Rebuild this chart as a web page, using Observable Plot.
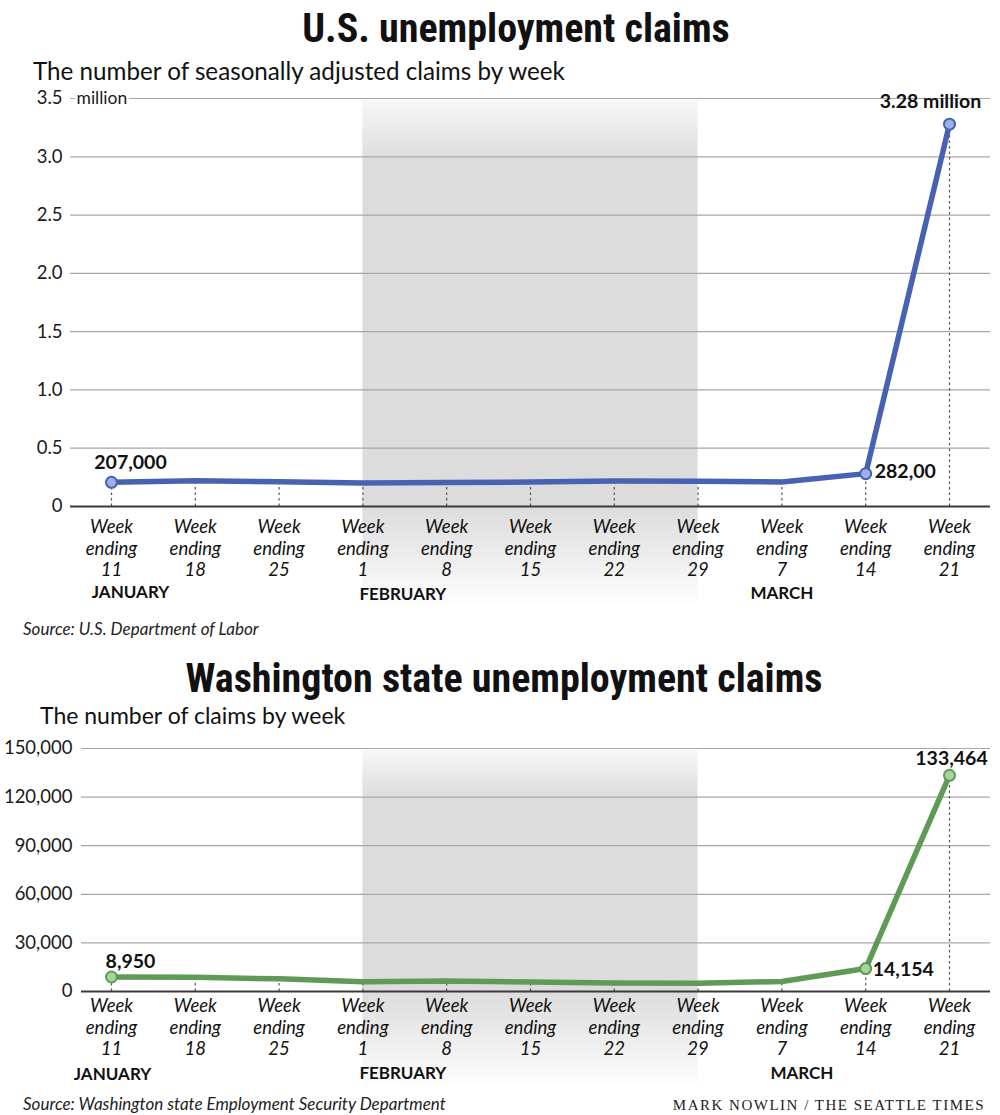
<!DOCTYPE html>
<html>
<head>
<meta charset="utf-8">
<script src="https://cdn.jsdelivr.net/npm/d3@7"></script>
<script src="https://cdn.jsdelivr.net/npm/@observablehq/plot@0.6"></script>
<style>
  html, body { margin: 0; padding: 0; background: #fff; }
  #page { position: relative; width: 1000px; height: 1115px; overflow: hidden; font-family: Lato, "Open Sans", sans-serif; color: #111; }
  .title { position: absolute; width: 1000px; text-align: center; font-weight: 700; line-height: 1; white-space: nowrap; font-family: "Liberation Sans Narrow", "Arial Narrow", "Roboto Condensed", Lato, sans-serif; }
  .title span { display: inline-block; }
  .sub { position: absolute; line-height: 1; white-space: nowrap; color: #111; }
  .src { position: absolute; left: 23px; font-size: 17px; font-style: italic; line-height: 1; color: #222; }
  .credit { position: absolute; right: 15px; font-family: "Liberation Serif", "DejaVu Serif", serif; font-size: 15px; letter-spacing: 1.5px; line-height: 1; color: #222; }
  .chart { position: absolute; left: 0; }
</style>
</head>
<body>
<div id="page">
  <div class="title" id="t1" style="left:16px;top:9px;font-size:40px"><span>U.S. unemployment claims</span></div>
  <div class="sub" style="left:33px;top:59px;font-size:24.2px">The number of seasonally adjusted claims by week</div>
  <div class="chart" id="c1" style="top:88px"></div>
  <div class="src" style="top:620px">Source: U.S. Department of Labor</div>
  <div class="title" id="t2" style="left:4px;top:659px;font-size:40px"><span>Washington state unemployment claims</span></div>
  <div class="sub" style="left:40px;top:704px;font-size:23px">The number of claims by week</div>
  <div class="chart" id="c2" style="top:738px"></div>
  <div class="src" style="top:1095px">Source: Washington state Employment Security Department</div>
  <div class="credit" style="top:1098px">MARK NOWLIN / THE SEATTLE TIMES</div>
</div>
<script>
// ---- Data ----
const weekDays = ["11", "18", "25", "1", "8", "15", "22", "29", "7", "14", "21"];
const monthNames = ["JANUARY", "FEBRUARY", "MARCH"];
const monthFirstWeek = [0, 3, 8];           // index of the first week of each month
const shadedWeeks = [3, 7];                  // February: week ending 1 .. week ending 29

// U.S. claims, millions
const usClaims = [0.207, 0.220, 0.212, 0.202, 0.205, 0.210, 0.219, 0.216, 0.211, 0.282, 3.28];
const usLabelWeeks = [0, 9, 10];
const usLabelTexts = ["207,000", "282,00", "3.28 million"];
const usTicks = [0, 0.5, 1.0, 1.5, 2.0, 2.5, 3.0, 3.5];
const usTickLabels = ["0", "0.5", "1.0", "1.5", "2.0", "2.5", "3.0", "3.5"];

// Washington claims
const waClaims = [8950, 8800, 7800, 6000, 6500, 5800, 5200, 5100, 6200, 14154, 133464];
const waLabelWeeks = [0, 9, 10];
const waLabelTexts = ["8,950", "14,154", "133,464"];
const waTicks = [0, 30000, 60000, 90000, 120000, 150000];
const waTickLabels = ["0", "30,000", "60,000", "90,000", "120,000", "150,000"];

function makeChart(cfg) {
  const rows = weekDays.map((d, i) => ({i, day: d, v: cfg.values[i]}));
  const labelRows = cfg.labelWeeks.map((w, k) => ({i: w, v: cfg.values[w], text: cfg.labelTexts[k], k}));
  const months = monthNames.map((m, k) => ({i: monthFirstWeek[k], m, k}));
  const tickRows = cfg.ticks.map((t, k) => ({t, label: cfg.tickLabels[k]}));
  const band = [{x1: shadedWeeks[0], x2: shadedWeeks[1]}];

  const svg = Plot.plot({
    width: 1000,
    height: cfg.height,
    marginTop: 10,
    marginBottom: cfg.marginBottom,
    marginLeft: cfg.marginLeft,
    marginRight: 10,
    style: {fontFamily: "Lato, 'Open Sans', sans-serif", color: "#111", background: "transparent", overflow: "visible"},
    x: {type: "linear", domain: [0, weekDays.length - 1], range: [111, 949], axis: null},
    y: {domain: [0, cfg.ticks[cfg.ticks.length - 1]], axis: null},
    marks: [
      Plot.rect(band, {x1: "x1", x2: "x2", fill: `url(#${cfg.id}-grad)`, insetTop: 2, insetBottom: -cfg.bandExtend}),
      Plot.ruleY(cfg.ticks.slice(1), {stroke: "#a8a8a8", strokeWidth: 1.2}),
      Plot.text(tickRows, {y: "t", text: "label", frameAnchor: "left", textAnchor: "end", dx: cfg.tickDx, fontSize: 18.5, fill: "#1a1a1a"}),
      ...(cfg.unitLabel ? [Plot.text([cfg.ticks[cfg.ticks.length - 1]], {y: d => d, text: () => cfg.unitLabel, frameAnchor: "left", textAnchor: "start", dx: 6, fontSize: 17.5, fill: "#1a1a1a", stroke: "white", strokeWidth: 5, paintOrder: "stroke"})] : []),
      Plot.ruleX(rows, {x: "i", y1: 0, y2: "v", stroke: "#555", strokeWidth: 1.2, strokeDasharray: "2.5,3"}),
      Plot.ruleY([0], {stroke: "#3a3a3a", strokeWidth: 2}),
      Plot.line(rows, {x: "i", y: "v", stroke: cfg.lineColor, strokeWidth: 5.5, strokeLinejoin: "round", strokeLinecap: "round"}),
      Plot.dot(labelRows, {x: "i", y: "v", r: 5.5, fill: cfg.dotFill, stroke: cfg.lineColor, strokeWidth: 2}),
      ...labelRows.map(d => Plot.text([d], {x: "i", y: "v", text: "text", fontWeight: "bold", fontSize: 19.5, fill: "#111",
        textAnchor: cfg.labelAnchor[d.k], dx: cfg.labelDx[d.k], dy: cfg.labelDy[d.k]})),
      Plot.text(rows, {x: "i", text: d => `Week\nending\n${d.day}`, frameAnchor: "bottom", lineAnchor: "top", dy: cfg.weekDy, fontSize: 18.5, fontStyle: "italic", lineHeight: 1.17, fill: "#111"}),
      ...months.map(d => Plot.text([d], {x: "i", text: "m", frameAnchor: "bottom", lineAnchor: "middle", dy: cfg.monthDy[d.k], dx: cfg.monthDx[d.k], fontSize: 17, fontWeight: "bold", fill: "#111"}))
    ]
  });

  const defs = d3.select(svg).insert("defs", ":first-child");
  const g = defs.append("linearGradient").attr("id", `${cfg.id}-grad`).attr("x1", 0).attr("x2", 0).attr("y1", 0).attr("y2", 1);
  cfg.gradStops.forEach(([o, c]) => g.append("stop").attr("offset", o).attr("stop-color", c));
  return svg;
}

document.getElementById("c1").appendChild(makeChart({
  id: "us", values: usClaims, labelWeeks: usLabelWeeks, labelTexts: usLabelTexts,
  ticks: usTicks, tickLabels: usTickLabels, unitLabel: "million",
  height: 530, marginBottom: 112, marginLeft: 70, tickDx: -8, bandExtend: 102,
  lineColor: "#4862b3", dotFill: "#9cb2e4",
  labelAnchor: ["middle", "start", "middle"], labelDx: [19, 9, -19], labelDy: [-20, -2, -22],
  weekDy: 11, monthDy: [86, 88, 87], monthDx: [19, 40, 0],
  gradStops: [[0, "#f7f7f7"], [0.12, "#dcdcdc"], [0.8, "#dcdcdc"], [1, "#ffffff"]]
}));

document.getElementById("c2").appendChild(makeChart({
  id: "wa", values: waClaims, labelWeeks: waLabelWeeks, labelTexts: waLabelTexts,
  ticks: waTicks, tickLabels: waTickLabels, unitLabel: null,
  height: 353, marginBottom: 100, marginLeft: 81, tickDx: -9, bandExtend: 99,
  lineColor: "#5f9b57", dotFill: "#a6d59a",
  labelAnchor: ["middle", "start", "middle"], labelDx: [19, 7, 2], labelDy: [-15, 1, -17],
  weekDy: 5, monthDy: [83, 82, 82], monthDx: [1, 40, 20],
  gradStops: [[0, "#f7f7f7"], [0.14, "#dcdcdc"], [0.71, "#dcdcdc"], [1, "#ffffff"]]
}));

// fit the condensed titles to the widths they occupy in the reference
function fitTitle(id, target) {
  const el = document.getElementById(id);
  const span = el.querySelector("span");
  const w = span.getBoundingClientRect().width;
  if (w > target * 1.03) {
    span.style.transformOrigin = "50% 50%";
    span.style.transform = `scaleX(${target / w})`;
  }
}
fitTitle("t1", 430);
fitTitle("t2", 648);
</script>
</body>
</html>
